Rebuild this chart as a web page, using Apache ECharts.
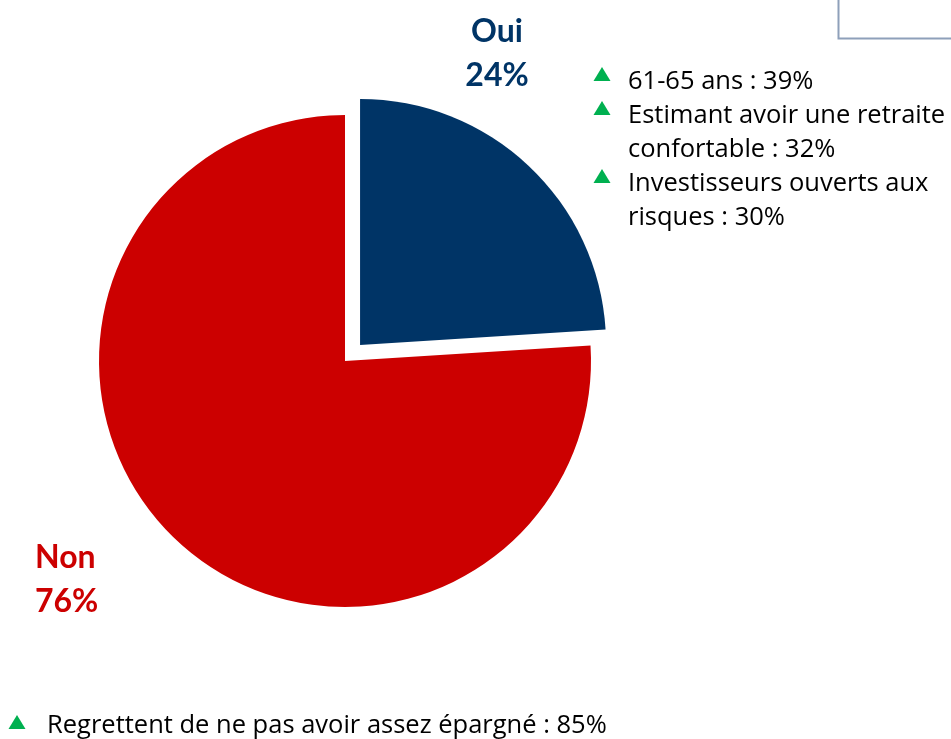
<!DOCTYPE html>
<html><head><meta charset="utf-8">
<script src="https://cdn.jsdelivr.net/npm/echarts@6/dist/echarts.min.js"></script>
<style>html,body{margin:0;padding:0;background:#fff}#c{width:951px;height:739px}</style>
</head><body><div id="c"></div>
<script>
const categories = ["Oui", "Non"];
const values = [24, 76];
const colors = ["#003466", "#CC0000"];
const sideNotes = [
  ["61-65 ans : 39%"],
  ["Estimant avoir une retraite", "confortable : 32%"],
  ["Investisseurs ouverts aux", "risques : 30%"]
];
const bottomNote = "Regrettent de ne pas avoir assez épargné : 85%";

const chart = echarts.init(document.getElementById('c'));
const FONT = 'Lato';
const TFONT = '"Open Sans"';
const graphics = [];
graphics.push({type:'polyline', shape:{points:[[838.5,0],[838.5,38.5],[951,38.5]]}, style:{stroke:'#8EA0BA', lineWidth:2, fill:null}});
graphics.push({type:'text', style:{text: categories[0] + '\n' + values[0] + '%', x:497, y:10, align:'center', font:'bold 32px ' + FONT, fill:colors[0], lineHeight:44}});
graphics.push({type:'text', style:{text: categories[1] + '\n' + values[1] + '%', x:35, y:536, align:'left', font:'bold 32px ' + FONT, fill:colors[1], lineHeight:44}});
function tri(cx, cy){
  return {type:'polygon', shape:{points:[[cx-8.5,cy+7],[cx+8.5,cy+7],[cx,cy-7]]}, style:{fill:'#00B050'}};
}
let line = 0;
sideNotes.forEach(n => {
  const y = 80 + line*34;
  graphics.push(tri(602, y - 6));
  graphics.push({type:'text', style:{text:n.join('\n'), x:628, y:y - 15, font:'25.5px ' + TFONT, fill:'#000', lineHeight:34}});
  line += n.length;
});
graphics.push(tri(17, 722));
graphics.push({type:'text', style:{text:bottomNote, x:47, y:709, font:'25.5px ' + TFONT, fill:'#000', lineHeight:34}});

chart.setOption({
  animation:false,
  graphic: graphics,
  series:[{
    type:'pie',
    center:[345,361],
    radius:246,
    startAngle:90,
    clockwise:true,
    selectedMode:'single',
    selectedOffset:22,
    label:{show:false},
    labelLine:{show:false},
    emphasis:{disabled:true},
    itemStyle:{borderWidth:0},
    data: categories.map((c,i)=>({name:c, value:values[i], selected: i===0, itemStyle:{color:colors[i]}}))
  }]
});
</script></body></html>
